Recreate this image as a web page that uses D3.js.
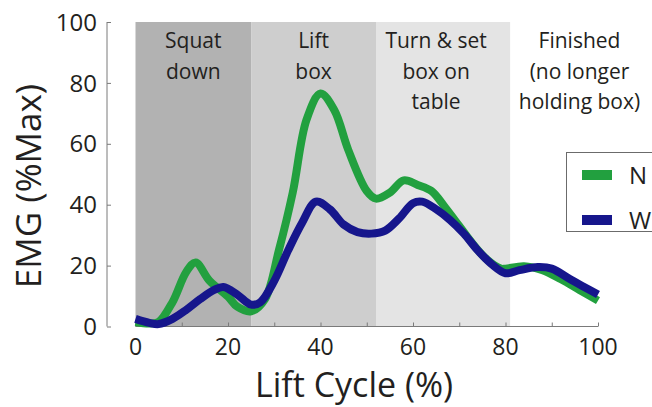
<!DOCTYPE html>
<html>
<head>
<meta charset="utf-8">
<script src="https://cdn.jsdelivr.net/npm/d3@7"></script>
<style>
  body { margin: 0; background: #fff; }
  svg text { font-family: "Open Sans", "DejaVu Sans", sans-serif; fill: #231f20; }
</style>
</head>
<body>
<svg id="chart"></svg>
<script>
// lift cycle phases (x in % of lift cycle)
const phaseStart = [0, 25, 52, 81];
const phaseEnd = [25, 52, 81, 100];
const phaseLabels = [["Squat", "down"], ["Lift", "box"], ["Turn & set", "box on", "table"], ["Finished", "(no longer", "holding box)"]];
const phaseLabelAt = [12.5, 38.5, 65, 96];

// series N (green)
const greenX = [0, 3, 5, 8, 11, 13, 16, 20, 22, 25, 28, 31, 34, 37, 40, 43, 46, 50, 52, 55, 58, 61, 64, 67, 70, 73, 76, 79, 80, 84, 88, 92, 96, 100];
const greenY = [1.5, 1, 1.5, 8, 18, 21, 15, 9.8, 6.5, 5, 9, 25, 44, 68, 76.5, 71, 58, 44.5, 42, 44, 48, 46.5, 44.5, 39, 33, 27, 22, 19, 19, 19.8, 18.5, 15.5, 12, 8.5];

// series W (blue)
const blueX = [0, 3, 5, 8, 11, 14, 17, 19, 22, 25, 27, 30, 33, 36, 39, 42, 45, 48, 51, 54, 57, 60, 62, 65, 68, 71, 74, 77, 80, 83, 87, 90, 94, 97, 100];
const blueY = [2.5, 1.2, 0.8, 2.5, 5.5, 9, 12, 13, 10.5, 7.2, 8, 15, 25, 34, 41, 38.5, 33.5, 31, 30.5, 31.5, 35.5, 40.5, 41, 38.5, 35, 30.5, 25, 20.5, 17.5, 18.5, 19.5, 19, 15.5, 13, 10.5];

const xTicks = [0, 10, 20, 30, 40, 50, 60, 70, 80, 90, 100];
const xTickLabels = [0, 20, 40, 60, 80, 100];
const yTicks = [0, 20, 40, 60, 80, 100];
const legendNames = ["N", "W"];

const width = 652, height = 407;
const phaseFill = ["#b2b2b2", "#cecece", "#e4e4e4", "none"];
const lineColors = ["#22a03f", "#16168c"];

const svg = d3.select("#chart")
  .attr("width", width)
  .attr("height", height);

const x = d3.scaleLinear().domain([0, 100]).range([135.5, 598]);
const y = d3.scaleLinear().domain([0, 100]).range([326.5, 22]);

// shaded phases
svg.selectAll("rect.phase")
  .data(phaseStart)
  .enter()
  .append("rect")
  .attr("class", "phase")
  .attr("x", (d, i) => x(d))
  .attr("y", y(100))
  .attr("width", (d, i) => x(phaseEnd[i]) - x(d))
  .attr("height", y(0) - y(100))
  .attr("fill", (d, i) => phaseFill[i]);

// phase labels
phaseLabels.forEach(function (lines, i) {
  lines.forEach(function (txt, j) {
    svg.append("text")
      .attr("x", x(phaseLabelAt[i]))
      .attr("y", 48 + j * 30.5)
      .attr("text-anchor", "middle")
      .style("font-size", "21px")
      .text(txt);
  });
});

// x axis
const xAxis = d3.axisTop(x)
  .tickValues(xTicks)
  .tickSize(4)
  .tickFormat("");
const gx = svg.append("g")
  .attr("transform", `translate(0,${y(0)})`)
  .call(xAxis);
gx.selectAll("path, line").attr("stroke", "#7a7a7a");
gx.select(".domain").attr("d", `M${x(0)},0H${x(100)}`);

svg.selectAll("text.xlab")
  .data(xTickLabels)
  .enter()
  .append("text")
  .attr("class", "xlab")
  .attr("x", d => x(d))
  .attr("y", 355)
  .attr("text-anchor", "middle")
  .style("font-size", "23px")
  .text(d => d);

// y axis (offset left of plot)
const yAxis = d3.axisRight(y)
  .tickValues(yTicks)
  .tickSize(4)
  .tickFormat("");
const gy = svg.append("g")
  .attr("transform", "translate(107,0)")
  .call(yAxis);
gy.selectAll("path, line").attr("stroke", "#7a7a7a");
gy.select(".domain").attr("d", `M0,${y(100)}V${y(0)}`);

svg.selectAll("text.ylab")
  .data(yTicks)
  .enter()
  .append("text")
  .attr("class", "ylab")
  .attr("x", 97)
  .attr("y", d => y(d))
  .attr("dy", "0.36em")
  .attr("text-anchor", "end")
  .style("font-size", "24px")
  .text(d => d);

// axis titles
svg.append("text")
  .attr("x", 354)
  .attr("y", 397)
  .attr("text-anchor", "middle")
  .style("font-size", "34px")
  .text("Lift Cycle (%)");

svg.append("text")
  .attr("transform", "translate(41,186) rotate(-90)")
  .attr("text-anchor", "middle")
  .style("font-size", "35px")
  .text("EMG (%Max)");

// lines
const line = d3.line()
  .x(d => x(d[0]))
  .y(d => y(d[1]))
  .curve(d3.curveCatmullRom.alpha(0.5));

const series = [d3.zip(greenX, greenY), d3.zip(blueX, blueY)];
series.forEach(function (pts, i) {
  svg.append("path")
    .attr("d", line(pts))
    .attr("fill", "none")
    .attr("stroke", lineColors[i])
    .attr("stroke-width", 8)
    .attr("stroke-linejoin", "round")
    .attr("stroke-linecap", "butt");
});

// legend (runs off the right edge)
svg.append("rect")
  .attr("x", 566.5)
  .attr("y", 152.5)
  .attr("width", 120)
  .attr("height", 79)
  .attr("fill", "#fff")
  .attr("stroke", "#6b6b6b")
  .attr("stroke-width", 1);

legendNames.forEach(function (name, i) {
  svg.append("line")
    .attr("x1", 582)
    .attr("x2", 612)
    .attr("y1", 175 + i * 45)
    .attr("y2", 175 + i * 45)
    .attr("stroke", lineColors[i])
    .attr("stroke-width", 10);
  svg.append("text")
    .attr("x", 629)
    .attr("y", 175 + i * 45)
    .attr("dy", "0.36em")
    .style("font-size", "24px")
    .text(name);
});
</script>
</body>
</html>
